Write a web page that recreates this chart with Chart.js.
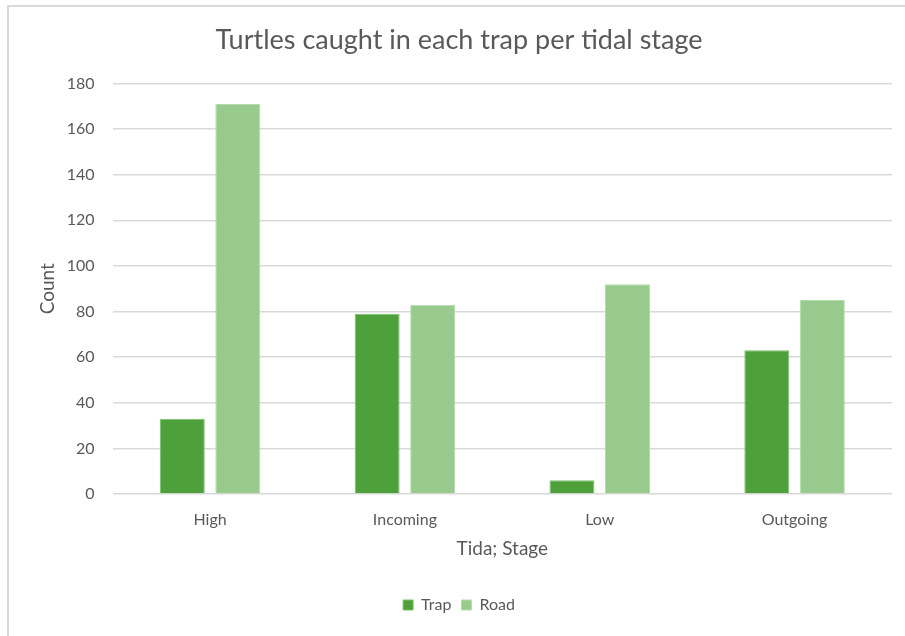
<html>
	<head>
		<script src="https://cdn.jsdelivr.net/npm/chart.js@4/dist/chart.umd.min.js"></script>
		<style>
			body { margin: 0; background: #ffffff; overflow: hidden; }
			#frame {
				position: absolute; left: 7px; top: 5px; width: 896px; height: 629px;
				border-left: 2px solid #d9d9d9; border-top: 2px solid #d9d9d9;
			}
			#container { position: absolute; left: 0; top: 0; width: 905px; height: 636px; }
		</style>
	</head>
	<body>
		<div id="frame"></div>
		<div id="container">
			<canvas id="myChart"></canvas>
		</div>
		<script>
			var stages = ["High", "Incoming", "Low", "Outgoing"];
			var trapCounts = [33, 79, 6, 63];
			var roadCounts = [171, 83, 92, 85];
			var yTicks = [0, 20, 40, 60, 80, 100, 120, 140, 160, 180];

			var grey = "#595959";
			var fontName = "Lato, 'Open Sans', sans-serif";

			var ctx = document.getElementById("myChart").getContext("2d");
			var myChart = new Chart(ctx, {
				type: "bar",
				data: {
					labels: stages,
					datasets: [{
						label: "Trap",
						data: trapCounts,
						backgroundColor: "#4ea03b",
						borderColor: "#7cbf6d",
						borderWidth: 1,
						barPercentage: 0.81,
						categoryPercentage: 0.57
					}, {
						label: "Road",
						data: roadCounts,
						backgroundColor: "#98ca8d",
						borderColor: "#b5dbac",
						borderWidth: 1,
						barPercentage: 0.81,
						categoryPercentage: 0.57
					}]
				},
				options: {
					responsive: true,
					maintainAspectRatio: false,
					animation: false,
					layout: { padding: { top: 24, left: 26, right: 13, bottom: 13 } },
					plugins: {
						title: {
							display: true,
							text: "Turtles caught in each trap per tidal stage",
							color: grey,
							font: { family: fontName, size: 27, weight: "normal" },
							padding: { top: 0, bottom: 27 }
						},
						legend: {
							position: "bottom",
							labels: {
								color: grey,
								boxWidth: 10,
								boxHeight: 10,
								padding: 10,
								font: { family: fontName, size: 16 }
							}
						},
						tooltip: { enabled: false }
					},
					scales: {
						x: {
							grid: { display: false },
							border: { display: false },
							ticks: { color: grey, font: { family: fontName, size: 16 }, padding: 8 },
							title: {
								display: true,
								text: "Tida; Stage",
								color: grey,
								font: { family: fontName, size: 19 },
								padding: { top: 0, bottom: 27 }
							}
						},
						y: {
							min: 0,
							max: 180,
							afterBuildTicks: function(axis) {
								axis.ticks = yTicks.map(function(v) { return { value: v }; });
							},
							grid: { color: "#d9d9d9", lineWidth: 1.5, drawTicks: false },
							border: { display: false },
							ticks: { color: grey, font: { family: fontName, size: 16 }, padding: 18 },
							title: {
								display: true,
								text: "Count",
								color: grey,
								font: { family: fontName, size: 19 },
								padding: { top: 10, bottom: -10 }
							}
						}
					}
				}
			});
		</script>
	</body>
</html>
